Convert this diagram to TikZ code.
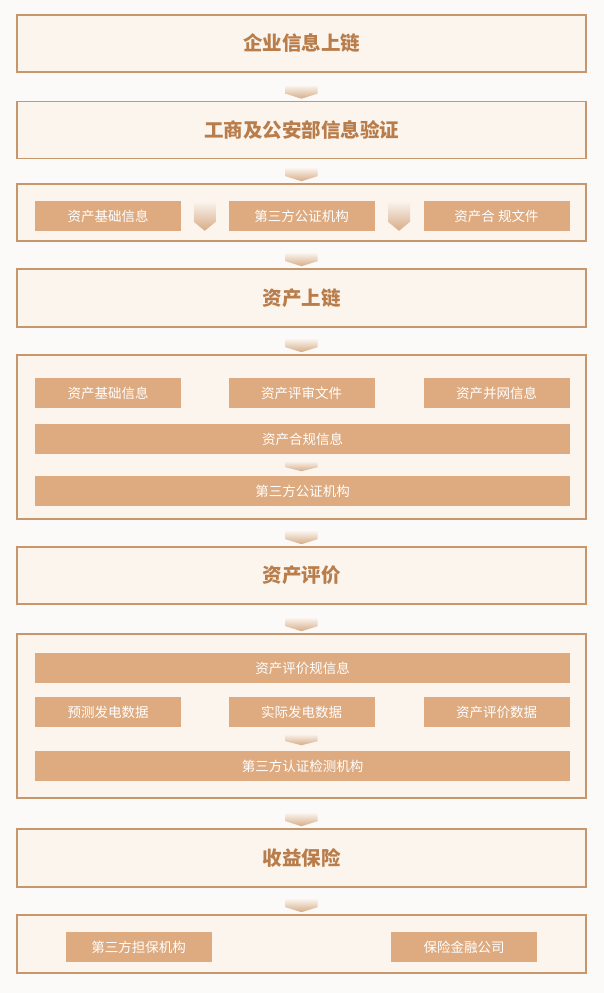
\documentclass[tikz,border=0pt]{standalone}
\usepackage{fontspec}
\usepackage{tikz}
\usetikzlibrary{calc}
\newfontfamily\cjk{Noto Sans CJK SC}
\definecolor{paper}{RGB}{252, 250, 248}
\definecolor{stagefill}{RGB}{251, 245, 238}
\definecolor{stageline}{RGB}{198, 150, 108}
\definecolor{titlebrown}{RGB}{185, 125, 75}
\definecolor{itemtan}{RGB}{222, 170, 128}
\definecolor{chevtop}{RGB}{250, 243, 236}
\definecolor{chevbot}{RGB}{214, 172, 136}

% chevron pointing down: top-centre coordinate, half width, side height, tip depth
\newcommand\chevdown[4]{%
  \shade[chev] ($(#1)+(-#2,0)$) -- ++(2*#2,0) -- ++(0,#3) -- ++(-#2,#4) -- ++(-#2,-#4) -- cycle;}

\begin{document}
\begin{tikzpicture}[x=1pt, y=-1pt,
    stage/.style={draw=stageline, line width=1.6pt, fill=stagefill, inner sep=0pt,
      minimum width=569pt, minimum height=57pt, text=titlebrown,
      font=\cjk\bfseries\fontsize{19.5}{20}\selectfont},
    group/.style={stage, minimum height=#1},
    item/.style={fill=itemtan, inner sep=0pt, minimum width=146pt, minimum height=30pt,
      text=white, font=\cjk\fontsize{13.5}{14}\selectfont},
    wide/.style={item, minimum width=535pt},
    chev/.style={top color=chevtop, bottom color=chevbot}]
    \fill[paper] (0,0) rectangle (604,993);
    \useasboundingbox (0,0) rectangle (604,993);

    % Enterprise info
    \node[stage] (s1) at (301.5,43.5) {企业信息上链};
    \node[stage] (s2) at (301.5,130) {工商及公安部信息验证};

    % Asset check row
    \node[group=57pt] (g3) at (301.5,212.5) {};
    \node[item] (g3a) at (108,216) {资产基础信息};
    \node[item] (g3b) at (301.5,216) {第三方公证机构};
    \node[item] (g3c) at (496.5,216) {资产合 规文件};
    \coordinate (t) at ($(g3a.north east)!0.5!(g3b.north west)+(0,1)$);
    \chevdown{t}{11}{20}{9}
    \coordinate (t) at ($(g3b.north east)!0.5!(g3c.north west)+(0,1)$);
    \chevdown{t}{11}{20}{9}

    % Asset on chain
    \node[stage, minimum height=58pt] (s4) at (301.5,298) {资产上链};
    \node[group=164pt] (g5) at (301.5,437) {};
    \node[item] (g5a) at (108,393) {资产基础信息};
    \node[item] (g5b) at (301.5,393) {资产评审文件};
    \node[item] (g5c) at (496.5,393) {资产并网信息};
    \node[wide] (g5d) at (302.5,439) {资产合规信息};
    \node[wide] (g5e) at (302.5,491) {第三方公证机构};
    \coordinate (t) at ($(g5d.south)+(-1,7)$);
    \chevdown{t}{16}{6}{4}

    % Asset evaluation
    \node[stage] (s6) at (301.5,575.5) {资产评价};
    \node[group=164pt] (g7) at (301.5,716) {};
    \node[wide] (g7a) at (302.5,668) {资产评价规信息};
    \node[item] (g7b) at (108,712) {预测发电数据};
    \node[item] (g7c) at (301.5,712) {实际发电数据};
    \node[item] (g7d) at (496.5,712) {资产评价数据};
    \node[wide] (g7e) at (302.5,766) {第三方认证检测机构};
    \coordinate (t) at ($(g7c.south)+(0,7)$);
    \chevdown{t}{16}{7}{4}

    % Income insurance
    \node[stage, minimum height=58pt] (s8) at (301.5,858) {收益保险};
    \node[group=58pt] (g9) at (301.5,944) {};
    \node[item] (g9a) at (138.5,947) {第三方担保机构};
    \node[item] (g9b) at (464,947) {保险金融公司};

    % flow between the stages
    \foreach \a/\b in {s1/s2, s2/g3, g3/s4, s4/g5, g5/s6, s6/g7, g7/s8, s8/g9} {
      \coordinate (t) at ($(\b.north)+(0,-15)$);
      \chevdown{t}{16}{8}{5}
    }
\end{tikzpicture}
\end{document}
